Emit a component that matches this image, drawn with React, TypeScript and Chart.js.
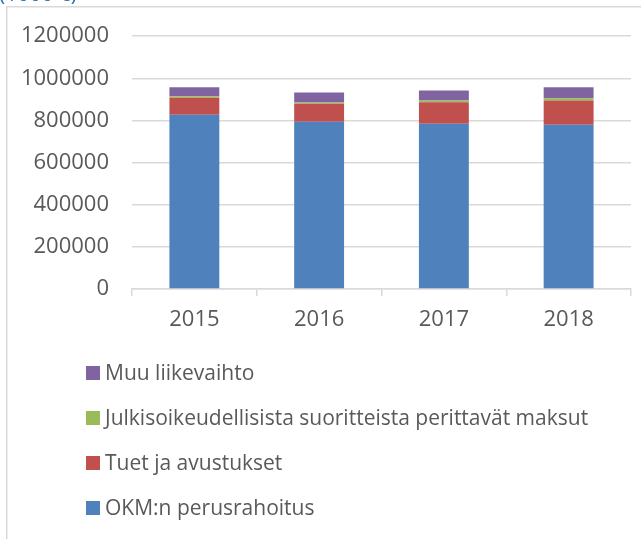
import React, { useEffect, useRef } from "react";
import { Chart, registerables } from "chart.js";

Chart.register(...registerables);

// ---- data ----
const categories = ["2015", "2016", "2017", "2018"];
const okmPerusrahoitus = [827000, 794000, 785000, 780000];
const tuetJaAvustukset = [81000, 85000, 102000, 115000];
const julkisoikeudelliset = [7000, 6000, 8000, 11000];
const muuLiikevaihto = [43000, 48000, 47000, 52000];
const seriesNames = [
  "OKM:n perusrahoitus",
  "Tuet ja avustukset",
  "Julkisoikeudellisista suoritteista perittavät maksut",
  "Muu liikevaihto",
];
const seriesColors = ["#4F81BD", "#C0504D", "#9BBB59", "#8064A2"];
const yMax = 1200000;
const yStep = 200000;
const unitLabel = "(1000 €)";

const FONT = '"Open Sans", "Noto Sans", sans-serif';
const TEXT_COLOR = "#595959";
const GRID_COLOR = "#D9D9D9";

const framePlugin = {
  id: "frame",
  beforeDraw(chart: any) {
    const ctx = chart.ctx;
    ctx.save();
    ctx.fillStyle = "#ffffff";
    ctx.fillRect(0, 0, chart.width, chart.height);
    ctx.strokeStyle = GRID_COLOR;
    ctx.lineWidth = 1.5;
    ctx.beginPath();
    ctx.moveTo(6.75, chart.height);
    ctx.lineTo(6.75, 6.75);
    ctx.lineTo(chart.width, 6.75);
    ctx.stroke();
    // clipped unit title
    ctx.fillStyle = "#2E75B6";
    ctx.font = `21px ${FONT}`;
    ctx.textBaseline = "alphabetic";
    ctx.textAlign = "left";
    ctx.fillText(unitLabel, -1, 1);
    ctx.restore();
  },
};

const legendPlugin = {
  id: "stackLegend",
  afterDraw(chart: any) {
    const ctx = chart.ctx;
    const ds = chart.data.datasets;
    ctx.save();
    ctx.font = `21px ${FONT}`;
    ctx.textBaseline = "middle";
    ctx.textAlign = "left";
    for (let r = 0; r < ds.length; r++) {
      const d = ds[ds.length - 1 - r];
      const y = 373 + r * 45;
      ctx.fillStyle = d.backgroundColor;
      ctx.fillRect(86, y - 7, 14, 14);
      ctx.fillStyle = TEXT_COLOR;
      ctx.fillText(d.label, 105, y + 1);
    }
    ctx.restore();
  },
};

export default function App() {
  const ref = useRef<HTMLCanvasElement | null>(null);

  useEffect(() => {
    if (!ref.current) return;
    const seriesData = [okmPerusrahoitus, tuetJaAvustukset, julkisoikeudelliset, muuLiikevaihto];
    const chart = new Chart(ref.current, {
      type: "bar",
      data: {
        labels: categories,
        datasets: seriesData.map((d, i) => ({
          label: seriesNames[i],
          data: d,
          backgroundColor: seriesColors[i],
          borderWidth: 0,
          barPercentage: 0.4,
          categoryPercentage: 1,
        })),
      },
      options: {
        responsive: false,
        animation: false,
        layout: { padding: { left: 0, right: 10, top: 36, bottom: 190 } },
        plugins: {
          legend: { display: false },
          tooltip: { enabled: false },
          title: { display: false },
        },
        scales: {
          x: {
            stacked: true,
            grid: {
              drawOnChartArea: false,
              drawTicks: true,
              tickLength: 7,
              color: GRID_COLOR,
              lineWidth: 1.5,
              offset: true,
            },
            border: { display: true, color: GRID_COLOR, width: 1.5 },
            ticks: {
              color: TEXT_COLOR,
              font: { family: FONT, size: 22 },
              padding: 11,
              maxRotation: 0,
            },
            afterFit: (s: any) => {
              s.height = 60;
            },
          },
          y: {
            stacked: true,
            min: 0,
            max: yMax,
            grid: { color: GRID_COLOR, lineWidth: 1.5, drawTicks: false },
            border: { display: false },
            ticks: {
              stepSize: yStep,
              color: TEXT_COLOR,
              font: { family: FONT, size: 22 },
              padding: 23,
              callback: (v: any) => String(v),
            },
            afterFit: (s: any) => {
              s.width = 132;
            },
          },
        },
      },
      plugins: [framePlugin, legendPlugin],
    });
    return () => chart.destroy();
  }, []);

  return (
    <div style={{ position: "absolute", left: 0, top: 0, width: 641, height: 539 }}>
      <canvas ref={ref} width={641} height={539} />
    </div>
  );
}
